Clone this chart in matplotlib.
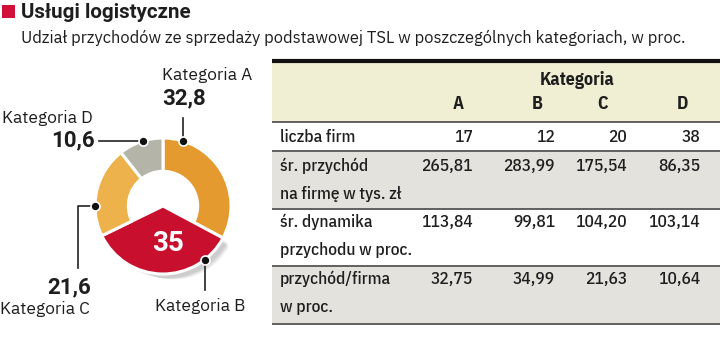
import matplotlib
matplotlib.use("Agg")
import matplotlib.pyplot as plt
import numpy as np
from matplotlib.patches import Rectangle

# ---------------- data ----------------
title = "Usługi logistyczne"
subtitle = "Udział przychodów ze sprzedaży podstawowej TSL w poszczególnych kategoriach, w proc."
pie_labels = ["Kategoria A", "Kategoria B", "Kategoria C", "Kategoria D"]
pie_values = [32.8, 35, 21.6, 10.6]
pie_value_text = ["32,8", "35", "21,6", "10,6"]
pie_colors = ["#E59A30", "#C8102E", "#EDB24B", "#B4B4A8"]

col_header = "Kategoria"
col_letters = ["A", "B", "C", "D"]
row_labels = [["liczba firm"],
              ["śr. przychód", "na firmę w tys. zł"],
              ["śr. dynamika", "przychodu w proc."],
              ["przychód/firma", "w proc."]]
liczba_firm = ["17", "12", "20", "38"]
sr_przychod = ["265,81", "283,99", "175,54", "86,35"]
sr_dynamika = ["113,84", "99,81", "104,20", "103,14"]
przychod_firma = ["32,75", "34,99", "21,63", "10,64"]
table_rows = [liczba_firm, sr_przychod, sr_dynamika, przychod_firma]

W, H = 720, 342
fig = plt.figure(figsize=(W / 100, H / 100), dpi=100)
fig.patch.set_facecolor("white")

TFONT = ["IBM Plex Sans", "DejaVu Sans"]
BFONT = ["Roboto", "DejaVu Sans"]
NFONT = ["IBM Plex Sans Condensed", "DejaVu Sans"]
TXT = "#1e1e1e"

# ---------------- donut ----------------
cx, cy, R = 163, 206, 68
half = 100
pax = fig.add_axes([(cx - half) / W, (H - cy - half) / H, 2 * half / W, 2 * half / H])
pax.set_zorder(1)
lim = half / R

# soft shadow under B
for k in range(10):
    off = 0.012 * (k + 1)
    pax.pie([pie_values[1], 100 - pie_values[1]], startangle=90 - 3.6 * pie_values[0],
            counterclock=False, radius=1.0 - 0.01 * k,
            colors=["#000000", "none"], center=(0.05 + off, -0.05 - off),
            wedgeprops=dict(linewidth=0, alpha=0.02))
wedges, _ = pax.pie(pie_values, startangle=90, counterclock=False, colors=pie_colors,
                    radius=1.0, wedgeprops=dict(width=0.49, edgecolor="white", linewidth=2.2))
wedges[1].set_width(None)
pax.set_xlim(-lim, lim)
pax.set_ylim(-lim, lim)
pax.set_aspect("equal")
pax.axis("off")

pax.text(0.07, -0.55, pie_value_text[1], color="white", fontsize=20, fontweight="bold",
         family=BFONT, ha="center", va="center")

# overlay axes in pixel coords (on top)
ov = fig.add_axes([0, 0, 1, 1])
ov.set_zorder(2)
ov.patch.set_visible(False)
ov.set_xlim(0, W)
ov.set_ylim(H, 0)
ov.axis("off")

# ---------------- title ----------------
ov.add_patch(Rectangle((2, 5), 13, 13, color="#D0103A", lw=0))
ov.text(21, 12, title, fontsize=14.8, fontweight="bold", family=BFONT,
        va="center", ha="left", color=TXT)
ov.text(21, 38, subtitle, fontsize=11.9, family=TFONT, va="center",
        ha="left", color=TXT)


def pt(angle_deg, r=R):
    a = np.deg2rad(angle_deg)
    return cx + r * np.cos(a), cy - r * np.sin(a)


dot_kw = dict(marker="o", ms=6.5, color="#111111", mec="white", mew=1.2, zorder=6)
line_kw = dict(color="#222222", lw=1.2, zorder=5)
LFS, VFS = 12.5, 16

# A
ax_, ay_ = pt(73)
ov.plot([ax_, ax_], [ay_, 118], **line_kw)
ov.plot(ax_, ay_, **dot_kw)
ov.text(162, 75, pie_labels[0], fontsize=LFS, family=TFONT, ha="left", va="center", color=TXT)
ov.text(162, 98, pie_value_text[0], fontsize=VFS, fontweight="bold", family=BFONT, ha="left", va="center", color=TXT)
# D
dx_, dy_ = pt(107)
ov.plot([99, dx_], [dy_, dy_], **line_kw)
ov.plot(dx_, dy_, **dot_kw)
ov.text(2, 118, pie_labels[3], fontsize=LFS, family=TFONT, ha="left", va="center", color=TXT)
ov.text(95, 140, pie_value_text[3], fontsize=VFS, fontweight="bold", family=BFONT, ha="right", va="center", color=TXT)
# C
qx, qy = pt(180)
ov.plot([qx, 78, 78], [qy, qy, 268], **line_kw)
ov.plot(qx, qy, **dot_kw)
ov.text(91, 287, pie_value_text[2], fontsize=VFS, fontweight="bold", family=BFONT, ha="right", va="center", color=TXT)
ov.text(0, 309, pie_labels[2], fontsize=LFS, family=TFONT, ha="left", va="center", color=TXT)
# B
bx, by = pt(-52)
ov.plot([bx, bx], [by, 290], **line_kw)
ov.plot(bx, by, **dot_kw)
ov.text(155, 306, pie_labels[1], fontsize=LFS, family=TFONT, ha="left", va="center", color=TXT)

# ---------------- table ----------------
tx0, tx1 = 272, 720
top, head_bot = 61, 122
row_bounds = [122, 151, 209, 266, 324]
row_bg = ["white", "#E3E2DD", "white", "#E3E2DD"]
ov.add_patch(Rectangle((tx0, top), tx1 - tx0, head_bot - top, color="#F0EED3", lw=0, zorder=1))
for i in range(4):
    ov.add_patch(Rectangle((tx0, row_bounds[i]), tx1 - tx0, row_bounds[i + 1] - row_bounds[i],
                           color=row_bg[i], lw=0, zorder=1))
ov.plot([tx0, tx1], [top, top], color="#111111", lw=3, zorder=3, solid_capstyle="butt")
for yb in row_bounds:
    ov.plot([tx0, tx1], [yb, yb], color="#555555", lw=1.3, zorder=3, solid_capstyle="butt")

letter_x = [458, 537, 603, 682]
value_x = [473, 555, 627, 700]
TFS = 12.5
ov.text(577, 80, col_header, fontsize=TFS + 0.5, fontweight="bold", family=NFONT, ha="center", va="center", color=TXT, zorder=4)
for lx, l in zip(letter_x, col_letters):
    ov.text(lx, 104, l, fontsize=TFS + 0.5, fontweight="bold", family=NFONT, ha="center", va="center", color=TXT, zorder=4)

row_text_y = [[137], [166, 194], [222, 250], [279, 307]]
for labels, ys, vals in zip(row_labels, row_text_y, table_rows):
    for lab, yy in zip(labels, ys):
        ov.text(280, yy, lab, fontsize=TFS, fontweight="medium", family=NFONT, ha="left", va="center", color=TXT, zorder=4)
    for vx, v in zip(value_x, vals):
        ov.text(vx, ys[0], v, fontsize=TFS, fontweight="medium", family=NFONT, ha="right", va="center", color=TXT, zorder=4)

fig.savefig("out.png", dpi=100, facecolor="white")
